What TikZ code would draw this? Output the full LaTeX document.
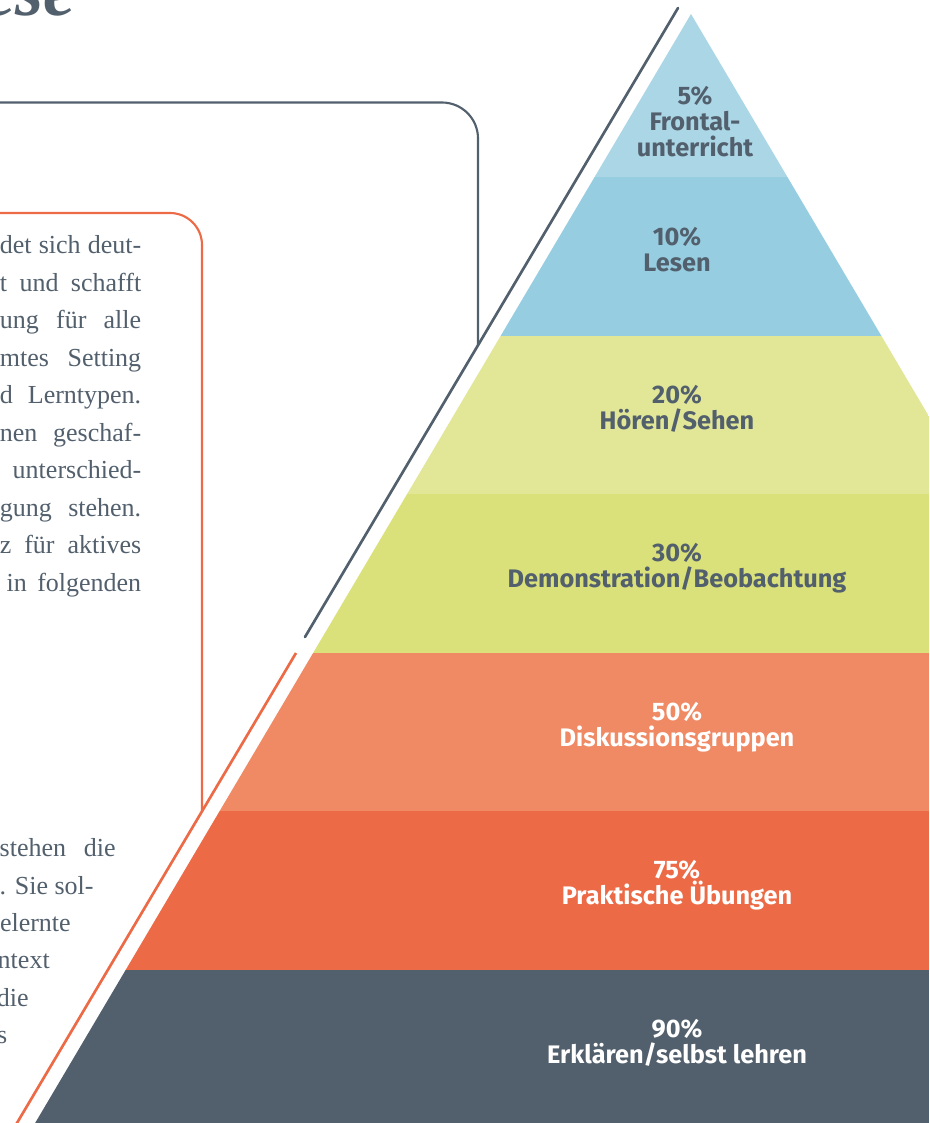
\documentclass[tikz,border=0pt]{standalone}
\usepackage{fontspec}
\setmainfont{Liberation Serif}
\newfontfamily\labelfont{Fira Sans}

\definecolor{slate}{RGB}{82,95,108}
\definecolor{rust}{RGB}{236,106,69}
\definecolor{levA}{RGB}{171,214,230}
\definecolor{levB}{RGB}{150,205,224}
\definecolor{levC}{RGB}{226,230,151}
\definecolor{levD}{RGB}{218,224,122}
\definecolor{levE}{RGB}{240,138,101}
\definecolor{levF}{RGB}{236,106,69}
\definecolor{levG}{RGB}{82,95,108}

% justified line of given width
\newcommand\jline[2]{\hbox to #1{\spaceskip=.25em plus 1fil\relax #2}}

\begin{document}
\begin{tikzpicture}[x=0.75pt,y=-0.75pt,
    band/.style={font=\labelfont\bfseries\fontsize{19}{19.5}\selectfont,
      align=center,anchor=base,inner sep=0pt},
    body/.style={font=\fontsize{19.5}{28}\selectfont,text=slate,
      anchor=base east,inner sep=0pt},
    frame/.style={line width=1.6pt}]
  \useasboundingbox (0,0) rectangle (929,1123);
  \clip (0,0) rectangle (929,1123);

  % title
  \node[font=\fontsize{54}{54}\selectfont\itshape\bfseries,text=slate,
    anchor=base east,inner sep=0pt] (title) at (76,15.5) {ese};

  % boxes
  \draw[frame,slate,rounded corners=27pt] (-10,102.5) -- (478,102.5) -- (478,345);
  \draw[frame,rust,rounded corners=24pt] (-10,213) -- (202,213) -- (202,811);

  % lines along the pyramid
  \coordinate (g1) at (678,8);
  \coordinate (g2) at (305,637);
  \coordinate (o1) at (296,653);
  \coordinate (o2) at (14,1128);
  \draw[frame,slate,line width=2pt,line cap=round] (g1) -- (g2);
  \draw[frame,rust,line width=2pt] (o1) -- (o2);

  % pyramid
  \coordinate (A) at (691,14);
  \coordinate (L) at (31,1130);
  \coordinate (R) at (1351,1130);
  \begin{scope}
    \clip (A) -- (L) -- (R) -- cycle;
    \foreach \c/\ya/\yb in {levA/0/177,levB/177/335.5,levC/335.5/494,
        levD/494/652.5,levE/652.5/811,levF/811/969.5,levG/969.5/1130}
      \fill[\c] (0,\ya) rectangle (929,\yb);
  \end{scope}

  % labels (base = last line)
  \node[band,text=slate] (p5) at (695,157) {5\%\\Frontal-\\unterricht};
  \node[band,text=slate] (p10) at (677,271) {10\%\\Lesen};
  \node[band,text=slate] (p20) at (677,429) {20\%\\Hören/Sehen};
  \node[band,text=slate] (p30) at (677,587) {30\%\\Demonstration/Beobachtung};
  \node[band,text=white] (p50) at (677,746) {50\%\\Diskussionsgruppen};
  \node[band,text=white] (p75) at (677,904) {75\%\\Praktische Übungen};
  \node[band,text=white] (p90) at (677,1063) {90\%\\Erklären/selbst lehren};

  % text in the orange box
  \node[body] (t1) at (141.5,253) {\jline{106pt}{det sich deut-}};
  \node[body] (t2) at (141.5,291) {\jline{106pt}{t und schafft}};
  \node[body] (t3) at (141.5,328.5) {\jline{106pt}{ung für alle}};
  \node[body] (t4) at (141.5,366) {\jline{106pt}{mtes Setting}};
  \node[body] (t5) at (141.5,403.5) {\jline{106pt}{d Lerntypen.}};
  \node[body] (t6) at (141.5,441) {\jline{106pt}{nen geschaf-}};
  \node[body] (t7) at (141.5,478.5) {unterschied-};
  \node[body] (t8) at (141.5,516) {\jline{106pt}{gung stehen.}};
  \node[body] (t9) at (141.5,553.5) {\jline{106pt}{z für aktives}};
  \node[body] (t10) at (141.5,591) {\jline{101pt}{in folgenden}};

  % text below the box
  \node[body] (b1) at (116,856.5) {\jline{87pt}{stehen die}};
  \node[body] (b2) at (90,894) {\jline{67.5pt}{. Sie sol-}};
  \node[body] (b3) at (71,931) {elernte};
  \node[body] (b4) at (50,968.5) {ntext};
  \node[body] (b5) at (29,1006) {die};
  \node[body] (b6) at (7.5,1043) {s};
\end{tikzpicture}
\end{document}
